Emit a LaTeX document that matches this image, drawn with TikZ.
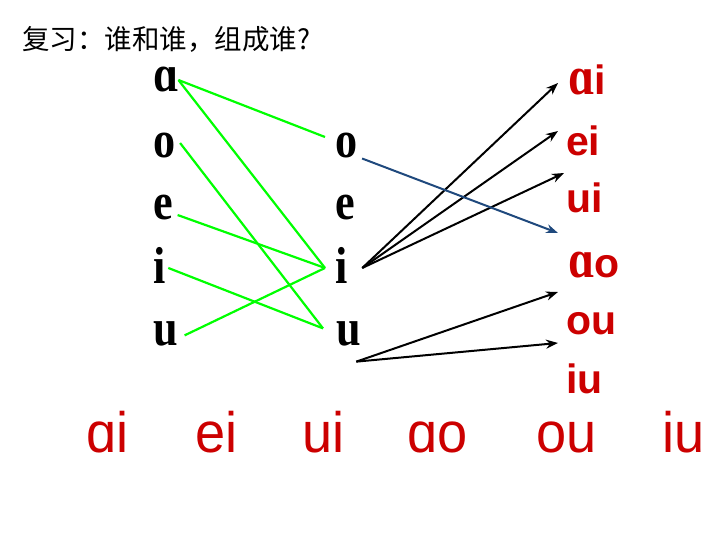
\documentclass[tikz,border=0pt]{standalone}
\usepackage{fontspec}
\usetikzlibrary{arrows.meta}
\newfontfamily\cjk{Noto Sans CJK SC}
\newfontfamily\lettfont[FakeStretch=0.85]{Liberation Serif Bold}
\newfontfamily\pyfont{Liberation Sans Bold}
\newfontfamily\pyrowfont[FakeStretch=0.95]{Liberation Sans}
\newcommand{\seralpha}{{\lettfont\fontsize{54}{54}\selectfont ɑ}}
\definecolor{pyred}{RGB}{204,0,0}
\definecolor{linkgreen}{RGB}{0,255,0}
\definecolor{linkblue}{RGB}{31,73,125}
\tikzset{
  letter/.style={anchor=base west, inner sep=0pt, outer sep=0pt, font=\lettfont\fontsize{52}{52}\selectfont},
  final/.style={anchor=base west, inner sep=0pt, outer sep=0pt, text=pyred, font=\pyfont\fontsize{41}{41}\selectfont},
  rowfinal/.style={anchor=base west, inner sep=0pt, text=pyred, font=\pyrowfont\fontsize{57}{57}\selectfont},
  match/.style={draw=linkgreen, line width=2.2pt},
  combo/.style={draw=black, line width=2pt, -{Stealth[length=12pt,width=9pt]}},
}
\begin{document}
\begin{tikzpicture}[x=1pt,y=-1pt]
\path[fill=white] (0,0) rectangle (720,540);
\useasboundingbox (0,0) rectangle (720,540);
\node[anchor=base west, inner sep=0pt, font=\cjk\fontsize{27.5}{27.5}\selectfont] (title) at (22,50) {复习：谁和谁，组成谁?};
% single finals, left
\node[letter] (la) at (153,92) {ɑ};
\node[letter] (lo) at (153,158) {o};
\node[letter] (le) at (153,220) {e};
\node[letter] (li) at (153,283) {i};
\node[letter] (lu) at (153,345) {u};
% single finals, middle
\node[letter] (mo) at (335,158) {o};
\node[letter] (me) at (335,220) {e};
\node[letter] (mi) at (335,283) {i};
\node[letter] (mu) at (336,345) {u};
% compound finals, right
\node[final] (rai) at (568,95) {\seralpha i};
\node[final] (rei) at (566,156) {ei};
\node[final] (rui) at (566,213) {ui};
\node[final] (rao) at (568,277) {\seralpha o};
\node[final] (rou) at (566,334) {ou};
\node[final] (riu) at (566,393) {iu};
% bottom row
\node[rowfinal] (bai) at (86,452) {ɑi};
\node[rowfinal] (bei) at (195,452) {ei};
\node[rowfinal] (bui) at (302,452) {ui};
\node[rowfinal] (bao) at (407,452) {ɑo};
\node[rowfinal] (bou) at (536,452) {ou};
\node[rowfinal] (biu) at (662,452) {iu};
% line ends
\coordinate (mo-in) at ([xshift=-10pt,yshift=9pt]mo.west);
\coordinate (mi-in) at ([xshift=-10pt,yshift=-3pt]mi.west);
\coordinate (mu-in) at ([xshift=-13pt,yshift=5pt]mu.west);
\coordinate (mi-out) at ([xshift=15pt,yshift=-3pt]mi.east);
\coordinate (mu-out) at ([xshift=8pt,yshift=-16pt]mu.south);
\coordinate (to-ai) at (558,83);
\coordinate (to-ei) at (558,131);
\coordinate (to-ui) at (564,173);
\coordinate (to-ao) at (558,233);
\coordinate (to-ou) at (558,292);
\coordinate (to-iu) at (558,343);
\path (la.east) edge [match] (mo-in);
\path (la.east) edge [match] (mi-in);
\path ([xshift=5pt,yshift=3pt]lo.east) edge [match] (mu-in);
\path ([xshift=5pt,yshift=-7pt]le.east) edge [match] (mi-in);
\path ([xshift=3pt,yshift=-3pt]li.east) edge [match] (mu-in);
\path ([xshift=7pt,yshift=-2pt]lu.east) edge [match] (mi-in);
\path (mi-out) edge [combo] (to-ai);
\path (mi-out) edge [combo] (to-ei);
\path (mi-out) edge [combo] (to-ui);
\path (mu-out) edge [combo] (to-ou);
\path (mu-out) edge [combo] (to-iu);
\path ([xshift=5pt]mo.south east) edge [combo, draw=linkblue] (to-ao);
\end{tikzpicture}
\end{document}
